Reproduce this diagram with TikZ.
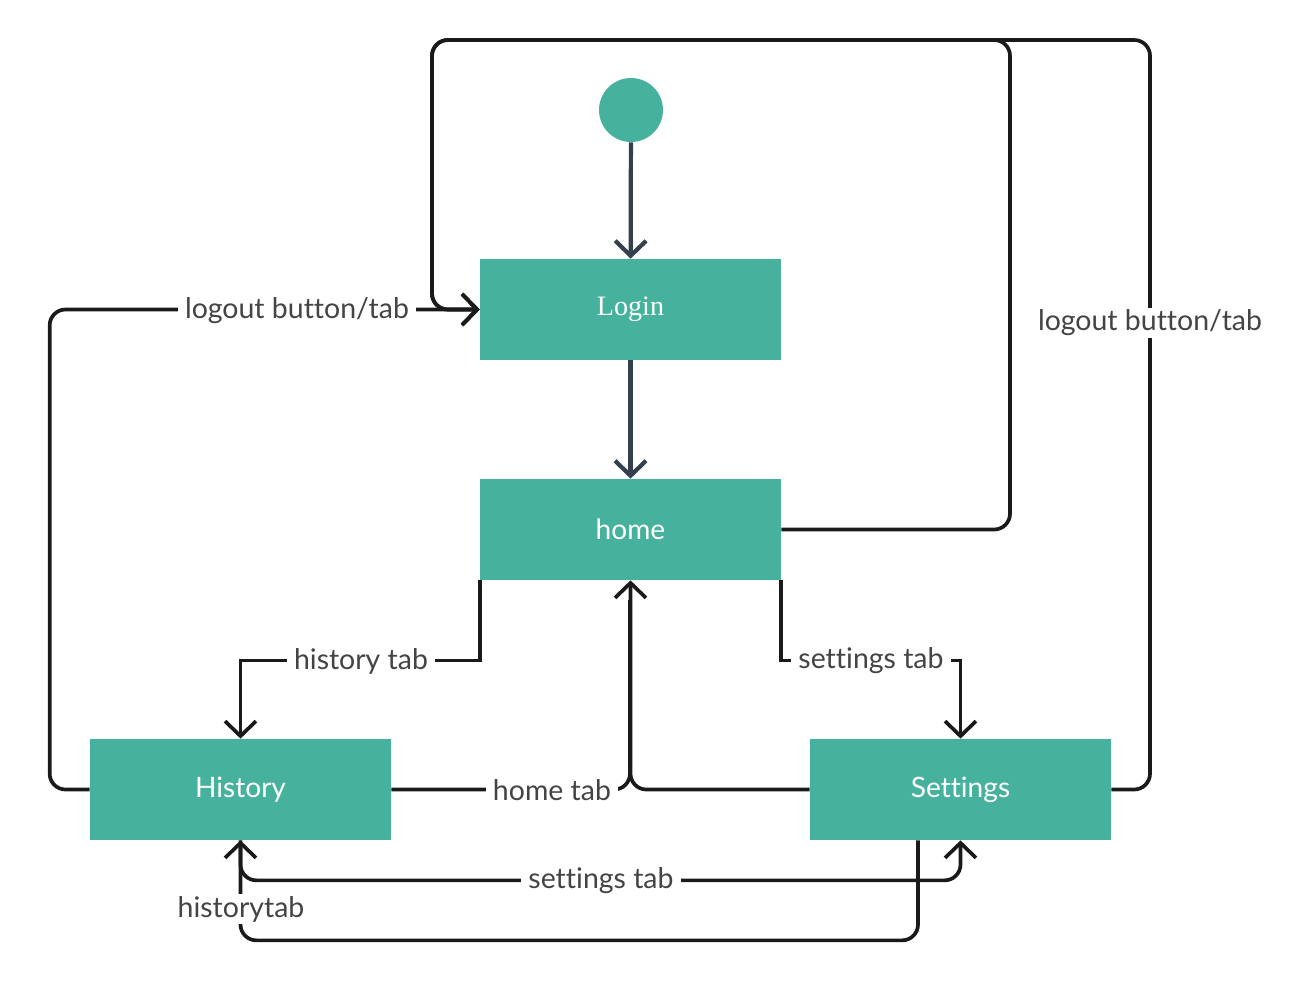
\documentclass[tikz,border=0pt]{standalone}
\usepackage{fontspec}
\setmainfont{Lato}[Ligatures=NoCommon]
\newfontfamily\serifa{Liberation Serif}
\usepackage{tikz}
\usetikzlibrary{arrows,arrows.meta,calc}
\definecolor{verde}{HTML}{46B29D}
\definecolor{azul}{HTML}{35404F}
\definecolor{negro}{HTML}{1A1A1A}
\definecolor{texto}{HTML}{444444}

\begin{document}
\begin{tikzpicture}[x=0.02cm,y=-0.02cm,
	estado/.style={fill=verde,text=white,minimum width=6.02cm,minimum height=2.02cm,inner sep=0pt,font=\fontsize{16}{19}\selectfont},
	inicio/.style={circle,fill=verde,minimum size=1.28cm,inner sep=0pt},
	flecha/.style={line width=2.1pt,color=negro,rounded corners=9pt,-{Straight Barb[length=0.3cm,width=0.62cm]}},
	linea/.style={line width=2.1pt,color=negro,rounded corners=9pt},
	flechaazul/.style={line width=2.4pt,color=azul,-{Straight Barb[length=0.3cm,width=0.62cm]}},
	etiqueta/.style={fill=white,text=texto,inner xsep=4pt,inner ysep=1pt,font=\fontsize{16.2}{19}\selectfont}]
%marco del dibujo
\useasboundingbox (0,0) rectangle (1305,998);

%estados
\node[inicio] (start) at (631,110) {};
\node[estado] (login) at (630.5,309.5) {\serifa Login};
\node[estado] (home) at (630.5,529.5) {home};
\node[estado] (hist) at (240.5,789.5) {History};
\node[estado] (sett) at (960.5,789.5) {Settings};

%puntos de las esquinas de arriba
\coordinate (ltop) at (432,40);
\coordinate (mtop) at (1010,40);
\coordinate (rtop) at (1150,40);

%flechas del inicio
\draw[flechaazul] (start) -- (login);
\draw[flechaazul] (login) -- (home);

%salidas hacia login
\draw[flecha] (home.east) -| (mtop) -- (ltop) |- (login.west);
\draw[flecha] (sett.east) -| (rtop) -- (ltop) |- (login.west);
\draw[flecha] (hist.west) -- ++(-40,0) |- (login.west);

%desde home
\draw[flecha,rounded corners=0pt] (home.south west) -- ++(0,80) -| (hist.north);
\draw[flecha,rounded corners=0pt] (home.south east) -- ++(0,80) -| (sett.north);

%vuelta a home
\draw[linea] (hist.east) -| (630,600);
\draw[flecha] (sett.west) -| (home.south);

%entre history y settings
\draw[flecha] ($(sett.south)+(-42.5,0)$) -- ++(0,100) -| (hist.south);
\draw[flecha] (hist.south) -- ++(0,40) -| (sett.south);

%etiquetas
\node[etiqueta] (l1) at (297,311) {logout button/tab};
\node[etiqueta] (l2) at (1150,323) {logout button/tab};
\node[etiqueta] (l3) at (361,661) {history tab};
\node[etiqueta] (l4) at (871,661) {settings tab};
\node[etiqueta] (l5) at (552,790.5) {home tab};
\node[etiqueta] (l6) at (601,881) {settings tab};
\node[etiqueta] (l7) at (241,909) {historytab};
\end{tikzpicture}
\end{document}
